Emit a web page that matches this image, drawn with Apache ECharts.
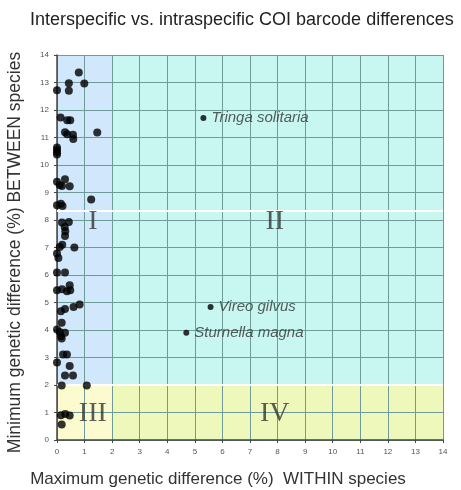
<!DOCTYPE html>
<html>
<head>
<meta charset="utf-8">
<script src="https://cdn.jsdelivr.net/npm/echarts@6/dist/echarts.min.js"></script>
<style>
  html, body { margin: 0; padding: 0; background: #fff; }
  #chart { width: 461px; height: 490px; }
</style>
</head>
<body>
<div id="chart"></div>
<script>
// max within-species difference (%) for each species pair in zone I / III
const withinX = [
  0.79, 0.43, 0.99, 0.43, 0.00, 0.13, 0.37, 0.48, 0.29, 0.37, 0.58, 0.59, 1.46,
  0.00, 0.00, 0.00, 0.00, 0.00, 0.29, 0.10, 0.18, 0.46, 0.00, 0.14, 0.20, 1.24,
  0.18, 0.43, 0.28, 0.30, 0.29, 0.19, 0.10, 0.63, 0.00, 0.05, 0.00, 0.29, 0.00,
  0.18, 0.36, 0.46, 0.48, 0.60, 0.82, 0.29, 0.14, 0.17, 0.00, 0.10, 0.29, 0.14,
  0.17, 0.22, 0.36, 0.00, 0.46, 0.29, 0.58, 0.17, 1.08, 0.14, 0.30, 0.46, 0.17
]
// min between-species difference (%)
const betweenY = [
  13.36, 12.97, 12.96, 12.70, 12.72, 11.73, 11.63, 11.63, 11.19, 11.12, 11.10, 10.95, 11.18,
  10.64, 10.55, 10.46, 10.38, 9.39, 9.48, 9.27, 9.24, 9.23, 8.54, 8.59, 8.51, 8.75,
  7.91, 7.93, 7.75, 7.59, 7.42, 7.10, 7.02, 7.00, 6.78, 6.62, 6.09, 6.09, 5.45,
  5.48, 5.41, 5.63, 5.45, 4.84, 4.93, 4.76, 4.68, 4.26, 4.02, 3.93, 3.90, 3.77,
  3.69, 3.11, 3.11, 2.82, 2.69, 2.35, 2.35, 1.98, 1.98, 0.90, 0.95, 0.89, 0.56
]

// named outliers
const speciesNames = ['Tringa solitaria', 'Vireo gilvus', 'Sturnella magna']
const speciesX = [5.31, 5.57, 4.69]
const speciesY = [11.71, 4.84, 3.90]

// zone labels
const zoneNames = ['I', 'II', 'III', 'IV']
const zoneX = [1.3, 7.9, 1.3, 7.9]
const zoneY = [7.95, 7.95, 0.95, 0.95]

const threshold = 2
const axisMax = 14
const seamY = 8.35   // white seam line across the original figure

const chart = echarts.init(document.getElementById('chart'))

const tickLabel = { fontSize: 8, color: '#555', fontFamily: 'Liberation Sans' }

const option = {
  animation: false,
  title: {
    text: 'Interspecific vs. intraspecific COI barcode differences',
    left: 25,
    top: 6,
    textStyle: { fontSize: 18, fontWeight: 'normal', color: '#222', fontFamily: 'Liberation Sans' }
  },
  grid: { left: 57, right: 18, top: 55, bottom: 50, containLabel: false, outerBoundsMode: 'none' },
  xAxis: {
    type: 'value', min: 0, max: axisMax, interval: 1, z: 3,
    name: 'Maximum genetic difference (%)  WITHIN species',
    nameLocation: 'middle', nameGap: 31,
    nameTextStyle: { fontSize: 17, color: '#333', fontFamily: 'Liberation Sans', padding: [0, 64, 0, 0] },
    axisLine: { lineStyle: { color: '#444', width: 1.5 } },
    axisTick: { show: true, length: 3, lineStyle: { color: '#444' } },
    axisLabel: { ...tickLabel, margin: 8 },
    splitLine: { show: true, lineStyle: { color: '#6f9c98', width: 1 } }
  },
  yAxis: {
    type: 'value', min: 0, max: axisMax, interval: 1, z: 3,
    name: 'Minimum genetic difference (%) BETWEEN species',
    nameLocation: 'middle', nameGap: 33, nameRotate: 90,
    nameTextStyle: { fontSize: 17.5, color: '#333', fontFamily: 'Liberation Sans', padding: [0, 10, 0, 0] },
    axisLine: { show: true, lineStyle: { color: '#444', width: 1.5 } },
    axisTick: { show: true, length: 3, lineStyle: { color: '#444' } },
    axisLabel: { ...tickLabel, margin: 8 },
    splitLine: { show: true, lineStyle: { color: '#6f9c98', width: 1 } }
  },
  series: [
    {
      type: 'scatter', data: [], z: 1, silent: true,
      markArea: {
        silent: true,
        data: [
          [{ xAxis: 0, yAxis: threshold, itemStyle: { color: '#d1e7fb' } }, { xAxis: threshold, yAxis: axisMax }],
          [{ xAxis: threshold, yAxis: threshold, itemStyle: { color: '#c7f7f0' } }, { xAxis: axisMax, yAxis: axisMax }],
          [{ xAxis: 0, yAxis: 0, itemStyle: { color: '#fcfbcf' } }, { xAxis: threshold, yAxis: threshold }],
          [{ xAxis: threshold, yAxis: 0, itemStyle: { color: '#eef8ba' } }, { xAxis: axisMax, yAxis: threshold }]
        ]
      }
    },
    {
      type: 'scatter', data: [], z: 4, silent: true,
      markLine: {
        silent: true, symbol: 'none', label: { show: false },
        lineStyle: { color: '#fff', width: 2, type: 'solid' },
        data: [{ yAxis: threshold }, { yAxis: seamY }]
      }
    },
    {
      type: 'scatter', z: 5, silent: true,
      symbolSize: 0,
      data: zoneNames.map((n, i) => ({ name: n, value: [zoneX[i], zoneY[i]] })),
      label: {
        show: true, position: 'inside', formatter: '{b}',
        fontSize: 28, color: '#333', fontFamily: 'Liberation Serif'
      }
    },
    {
      type: 'scatter', z: 10,
      symbolSize: 8,
      itemStyle: { color: '#000' },
      data: withinX.map((x, i) => [x, betweenY[i]])
    },
    {
      type: 'scatter', z: 10,
      symbolSize: 6,
      itemStyle: { color: '#000' },
      data: speciesNames.map((n, i) => ({ name: n, value: [speciesX[i], speciesY[i]] })),
      label: {
        show: true, position: 'right', distance: 5, formatter: '{b}',
        fontSize: 15, fontStyle: 'italic', color: '#333', fontFamily: 'Liberation Sans'
      }
    }
  ]
}

chart.setOption(option)
</script>
</body>
</html>
